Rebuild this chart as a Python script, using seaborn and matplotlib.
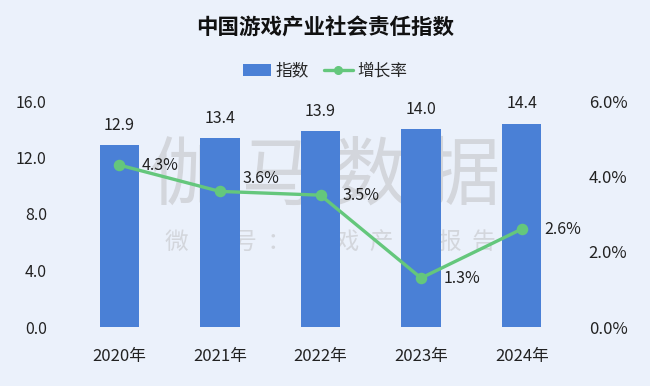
import matplotlib
matplotlib.use("Agg")
import matplotlib.pyplot as plt
import seaborn as sns
from matplotlib.ticker import FuncFormatter
from matplotlib.lines import Line2D
from matplotlib.patches import Patch

# --- data ---
years = ["2020年", "2021年", "2022年", "2023年", "2024年"]
index_values = [12.9, 13.4, 13.9, 14.0, 14.4]
growth_rate = [4.3, 3.6, 3.5, 1.3, 2.6]

BG = "#EBF1FB"
BAR = "#4A80D6"
GREEN = "#64C77C"
TXT = "#222222"
FS = 11.5

sns.set_theme(style="white")
plt.rcParams["font.family"] = ["Noto Sans CJK SC", "DejaVu Sans"]

fig = plt.figure(figsize=(6.5, 3.86), dpi=100, facecolor=BG)
ax = fig.add_axes([69 / 650, 1 - 327 / 386, 503 / 650, 226 / 386])
ax.set_facecolor(BG)

sns.barplot(x=years, y=index_values, color=BAR, width=0.39, saturation=1, ax=ax,
            zorder=2, linewidth=0)
ax.set_ylim(0, 16)
ax.set_yticks([0, 4, 8, 12, 16])
ax.yaxis.set_major_formatter(FuncFormatter(lambda v, p: f"{v:.1f}"))
ax.set_xlim(-0.5, 4.5)
for i, v in enumerate(index_values):
    ax.annotate(f"{v:.1f}", (i, v), xytext=(0, 8), textcoords="offset points",
                ha="center", va="bottom", fontsize=FS, color=TXT, clip_on=False)

# faint source watermark (behind the bars)
ax.text(0.51, 0.665, "伽 马 数 据", transform=ax.transAxes, ha="center", va="center",
        fontsize=54, fontweight="light", color="#d3d6dc", zorder=1)
ax.text(0.52, 0.375, "  ".join("微信号：游戏产业报告"), transform=ax.transAxes,
        ha="center", va="center", fontsize=17, fontweight="light", color="#d3d6dc", zorder=1)

ax2 = ax.twinx()
sns.pointplot(x=years, y=growth_rate, color=GREEN, ax=ax2, markers="o",
              linewidth=2.4, markersize=6.5)
ax2.set_ylim(0, 6)
ax2.set_xlim(-0.5, 4.5)
ax2.set_yticks([0, 2, 4, 6])
ax2.yaxis.set_major_formatter(FuncFormatter(lambda v, p: f"{v:.1f}%"))
for i, g in enumerate(growth_rate):
    dy = 9 if i == 1 else 0
    ax2.annotate(f"{g:.1f}%", (i, g), xytext=(16, dy), textcoords="offset points",
                 ha="left", va="center", fontsize=FS, color=TXT)

for a in (ax, ax2):
    sns.despine(ax=a, left=True, bottom=True, right=True, top=True)
    a.set_xlabel("")
    a.set_ylabel("")
    a.grid(False)
ax.tick_params(axis="y", length=0, pad=16, labelsize=FS, labelcolor=TXT)
ax.tick_params(axis="x", length=0, pad=15, labelsize=FS + 0.5, labelcolor=TXT)
ax2.tick_params(axis="y", length=0, pad=12, labelsize=FS + 0.5, labelcolor=TXT)

fig.text(0.5, 1 - 28 / 386, "中国游戏产业社会责任指数", ha="center", va="center",
         fontsize=15.5, fontweight="bold", color="#111111")

handles = [Patch(facecolor=BAR, edgecolor="none"),
           Line2D([0], [0], color=GREEN, lw=2.4, marker="o", markersize=5.5)]
fig.legend(handles, ["指数", "增长率"], loc="center", bbox_to_anchor=(0.5, 1 - 71 / 386),
           ncol=2, frameon=False, fontsize=12, handlelength=1.7, handletextpad=0.3,
           columnspacing=0.9)

fig.savefig("out.png", dpi=100, facecolor=BG)
